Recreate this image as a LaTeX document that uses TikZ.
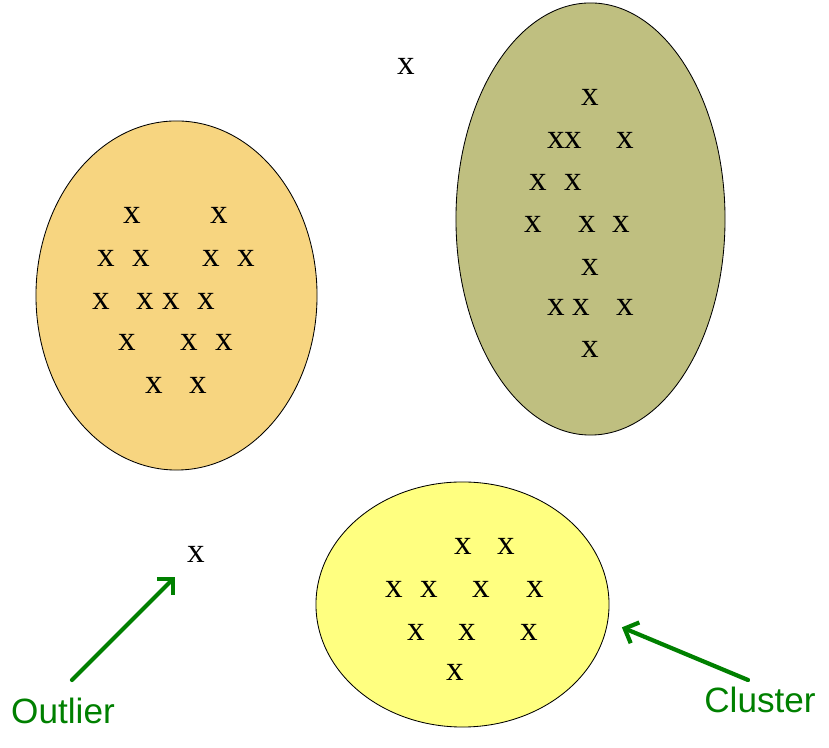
\documentclass[tikz,border=0pt]{standalone}
\usepackage{fontspec}
\setmainfont{Liberation Serif}
\setsansfont{Liberation Sans}
\usetikzlibrary{shapes.geometric,arrows.meta}
\definecolor{blobOrange}{RGB}{247,213,128}
\definecolor{blobOlive}{RGB}{191,191,128}
\definecolor{blobYellow}{RGB}{255,255,128}
\definecolor{labelGreen}{RGB}{0,128,0}
\tikzstyle{blob}=[ellipse, draw=black, line width=0.6pt, inner sep=0pt, anchor=center]
\tikzstyle{pt}=[inner sep=0pt, font=\fontsize{25}{25}\selectfont]
\tikzstyle{annot}=[text=labelGreen, inner sep=0pt, font=\sffamily\fontsize{25}{25}\selectfont]
\tikzstyle{pointer}=[draw=labelGreen, line width=3pt, line cap=round, -{Straight Barb[length=8pt,width=16pt]}]
% one x per point, named #1 1, #1 2, ...
\newcommand{\drawpoints}[2]
{
  \foreach \px/\py [count=\k] in {#2}
    \node[pt] (#1\k) at (\px,{748-\py}) {x};
}

\begin{document}
\begin{tikzpicture}[x=0.025cm, y=0.025cm]
	\useasboundingbox (0,0) rectangle (829,748);

	\node[blob, fill=blobOrange, minimum width=7.025cm, minimum height=8.725cm](clusterA) at (176.5,452.5){};
	\node[blob, fill=blobOlive, minimum width=6.725cm, minimum height=10.8cm](clusterB) at (590.5,529){};
	\node[blob, fill=blobYellow, minimum width=7.325cm, minimum height=6.125cm](clusterC) at (462.5,143.5){};

	\drawpoints{a}{132/215, 219/215, 106/258, 141/258, 211/258, 246/258, 101/301, 145/301, 171/301, 206/301, 127/342, 189/342, 224/342, 154/385, 198/385}
	\drawpoints{b}{590/97, 556/140, 573/140, 625/140, 538/182, 573/182, 533/224, 587/224, 621/224, 590/267, 556/307, 581/307, 625/307, 590/349}
	\drawpoints{c}{463/546, 506/546, 394/589, 429/589, 481/589, 535/589, 416/632, 467/632, 529/632, 455/672}

	\node[pt] (lone1) at (406,682){x};
	\node[pt] (lone2) at (196,194){x};

	\node[annot] (outlierlbl) at (63,37){Outlier};
	\node[annot] (clusterlbl) at (760,48){Cluster};

	\coordinate (outtail) at (72,68);
	\coordinate (clutail) at (748,68);
	\draw[pointer] (outtail) -- ([shift={(-21,-23)}]lone2.center);
	\draw[pointer] (clutail) -- ([shift={(15,0)}]clusterC.-9);

\end{tikzpicture}
\end{document}
